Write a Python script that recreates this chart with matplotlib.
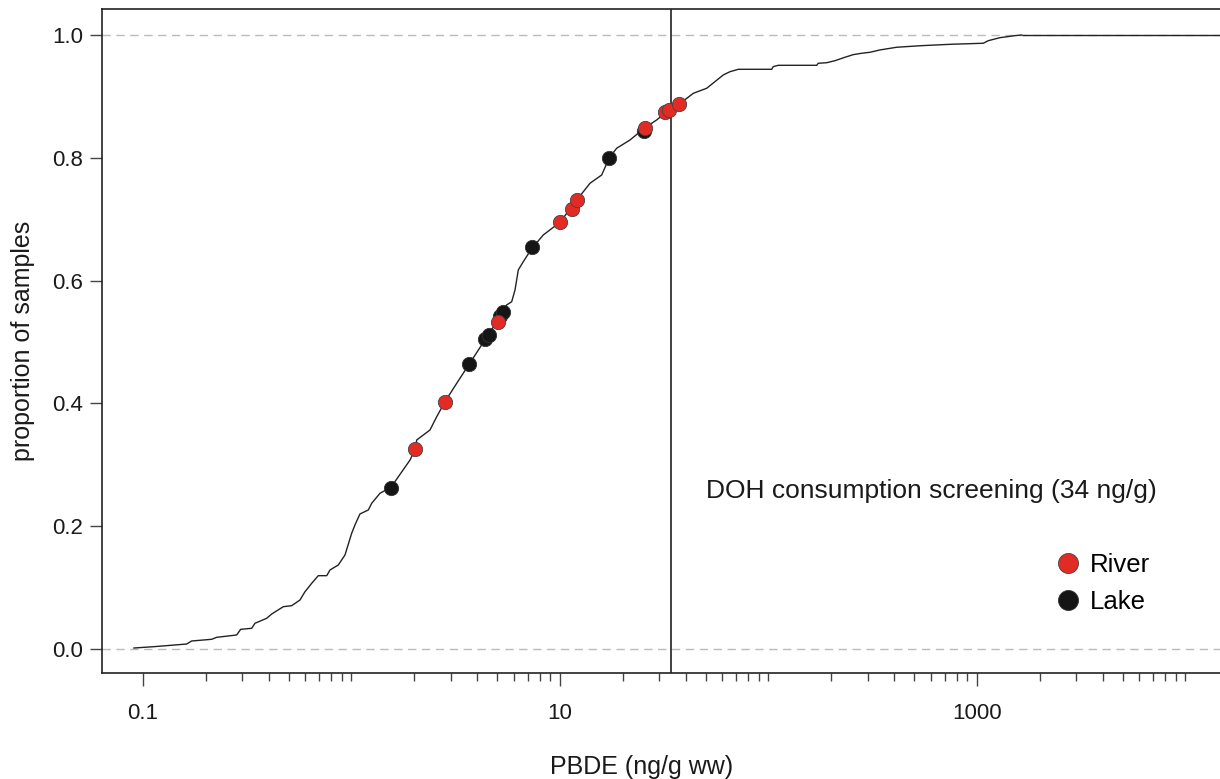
import matplotlib.pyplot as plt
from matplotlib.lines import Line2D
from matplotlib.ticker import FixedLocator, NullFormatter

# ECDF of PBDE concentrations, knots
ecdf_x = [0.0905, 0.112, 0.142, 0.162, 0.171, 0.2135, 0.2257, 0.2813, 0.294, 0.332,
          0.3445, 0.392, 0.4144, 0.471, 0.5166, 0.5662, 0.5984, 0.6444, 0.6931, 0.7606,
          0.7889, 0.8643, 0.9307, 1.002, 1.039, 1.098, 1.204, 1.250, 1.370, 1.547,
          1.909, 2.017, 2.055, 2.380, 2.563, 2.809, 3.196, 3.673, 4.450, 5.155,
          5.550, 5.866, 6.085, 6.310, 6.668, 7.314, 8.317, 10.0, 12.11, 13.93,
          15.85, 17.24, 18.70, 21.67, 25.56, 29.09, 32.50, 37.22, 43.60, 50.53,
          55.38, 60.72, 65.37, 71.66, 103.6, 105.4, 111.4, 170.3, 173.3, 190.2,
          208.4, 232.8, 255.1, 279.9, 306.8, 342.5, 412.0, 543.0, 756.3, 1072,
          1133, 1289, 1522, 1639]
ecdf_y = [0.0016, 0.0037, 0.0065, 0.0081, 0.013, 0.0158, 0.019, 0.0228, 0.032, 0.0337,
          0.0419, 0.050, 0.057, 0.0689, 0.0705, 0.0798, 0.0933, 0.107, 0.1194, 0.1194,
          0.1287, 0.1368, 0.1531, 0.1884, 0.2020, 0.2199, 0.2264, 0.2373, 0.2536, 0.2634,
          0.3078, 0.3252, 0.3404, 0.3567, 0.3783, 0.4028, 0.4327, 0.4642, 0.5077, 0.5412,
          0.5603, 0.5656, 0.5847, 0.6173, 0.6308, 0.652, 0.6743, 0.695, 0.7324, 0.7585,
          0.772, 0.8002, 0.8155, 0.829, 0.849, 0.8616, 0.875, 0.8871, 0.905, 0.9132,
          0.924, 0.9349, 0.9402, 0.9441, 0.9441, 0.9484, 0.9506, 0.9506, 0.9539, 0.9548,
          0.9581, 0.9637, 0.968, 0.9702, 0.9718, 0.9756, 0.980, 0.9826, 0.9849, 0.9865,
          0.9907, 0.9956, 0.9989, 1.0]

river_x = [2.017, 2.81, 5.06, 10.0, 11.4, 12.1, 25.6, 31.9, 33.4, 37.2]
river_y = [0.325, 0.403, 0.533, 0.695, 0.717, 0.732, 0.849, 0.874, 0.878, 0.887]
lake_x = [1.547, 3.67, 4.36, 4.58, 5.18, 5.3, 7.31, 17.2, 25.3]
lake_y = [0.263, 0.464, 0.505, 0.511, 0.543, 0.549, 0.654, 0.800, 0.844]

screening = 34
major_ticks = [0.1, 10, 1000]
major_labels = ["0.1", "10", "1000"]

RED = "#e32b26"
BLACK = "#151515"

plt.rcParams["font.family"] = ["Liberation Sans", "DejaVu Sans"]

W, H = 1220, 779
fig = plt.figure(figsize=(W / 100, H / 100), dpi=100)
ax = fig.add_axes([102 / W, 1 - 673 / H, 1 - 102 / W, (673 - 9.3) / H])

xlo, xhi = 10 ** -1.1966, 10 ** 4.1655
ax.set_xscale("log")
ax.set_xlim(xlo, xhi)
ax.set_ylim(-0.0391, 1.0418)

ax.axhline(0, color="#bbbbbb", lw=1, ls=(0, (6, 4)), zorder=1)
ax.axhline(1, color="#bbbbbb", lw=1, ls=(0, (6, 4)), zorder=1)

ax.plot(ecdf_x, ecdf_y, color="#222222", lw=1.0, zorder=2)
ax.hlines(ecdf_y[-1], ecdf_x[-1], xhi, color="#222222", lw=1.0, zorder=2)

ax.axvline(screening, color="#333333", lw=1.3, zorder=2)

ax.plot(lake_x, lake_y, "o", ms=10.3, mfc=BLACK, mec="#333333", mew=0.6, zorder=3)
ax.plot(river_x, river_y, "o", ms=10.3, mfc=RED, mec="#444444", mew=0.6, zorder=4)

ax.text(50.1, 0.2454, "DOH consumption screening (%d ng/g)" % screening,
        fontsize=19, color="#1a1a1a", ha="left", va="baseline")

handles = [
    Line2D([], [], ls="none", marker="o", ms=14.4, mfc=RED, mec="#444444", mew=0.6),
    Line2D([], [], ls="none", marker="o", ms=14.4, mfc=BLACK, mec="#333333", mew=0.6),
]
ax.legend(handles, ["River", "Lake"], loc="center left",
          bbox_to_anchor=(1054.9 / W, 1 - 583.3 / H), bbox_transform=fig.transFigure,
          frameon=False, fontsize=18.5, handlelength=1.0, handletextpad=0.37,
          labelspacing=0.49, borderpad=0, borderaxespad=0)

# ticks
minor = [m * 10.0 ** e for e in range(-1, 4) for m in range(2, 10)] + [1, 100, 10000]
ax.xaxis.set_major_locator(FixedLocator(major_ticks))
ax.xaxis.set_minor_locator(FixedLocator(minor))
ax.set_xticklabels(major_labels)
ax.xaxis.set_minor_formatter(NullFormatter())
ax.set_yticks([0, 0.2, 0.4, 0.6, 0.8, 1.0])
ax.set_yticklabels(["0.0", "0.2", "0.4", "0.6", "0.8", "1.0"])

ax.tick_params(axis="x", which="major", direction="out", length=9.4, width=1,
               color="#444444", labelsize=16, pad=12, labelcolor="#1a1a1a")
ax.tick_params(axis="x", which="minor", direction="out", length=5.8, width=1,
               color="#444444")
ax.tick_params(axis="y", direction="out", length=8.6, width=1, color="#444444",
               labelsize=16, pad=5, labelcolor="#1a1a1a")

for side in ["left", "bottom", "top"]:
    ax.spines[side].set_color("#222222")
    ax.spines[side].set_linewidth(1.2)
ax.spines["right"].set_visible(False)

ax.set_xlabel("PBDE (ng/g ww)", fontsize=18, color="#1a1a1a")
ax.set_ylabel("proportion of samples", fontsize=18, color="#1a1a1a")
ax.xaxis.set_label_coords(642 / W, 1 - 767 / H, transform=fig.transFigure)
ax.yaxis.set_label_coords(23 / W, 1 - 341 / H, transform=fig.transFigure)
ax.xaxis.label.set_va("center")
ax.yaxis.label.set_va("center")

fig.savefig("out.png", dpi=100, facecolor="white")
